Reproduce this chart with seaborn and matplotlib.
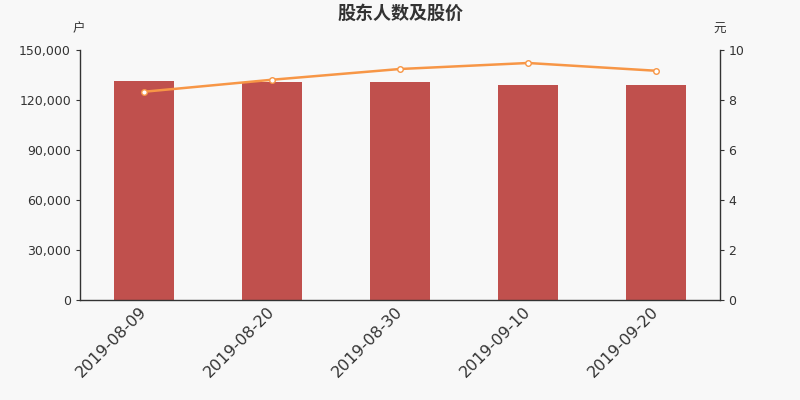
import matplotlib
matplotlib.use('Agg')
import pandas as pd
import seaborn as sns
import matplotlib.pyplot as plt
from matplotlib.ticker import FuncFormatter

# data
dates = ['2019-08-09', '2019-08-20', '2019-08-30', '2019-09-10', '2019-09-20']
holders = [131400, 130800, 130800, 129200, 129200]
prices = [8.33, 8.81, 9.24, 9.48, 9.17]

sns.set_style('white')
plt.rcParams['font.family'] = ['DejaVu Sans', 'Noto Sans CJK SC']
cjk = ['Noto Sans CJK SC', 'DejaVu Sans']

bg = '#f8f8f8'
txt = '#333333'
df = pd.DataFrame({'date': dates, 'holders': holders, 'price': prices, 'pos': range(len(dates))})

fig = plt.figure(figsize=(8, 4), dpi=100, facecolor=bg)
ax = fig.add_axes([0.1, 0.25, 0.8, 0.625], facecolor=bg)

sns.barplot(data=df, x='pos', y='holders', color='#c0504d', saturation=1, width=0.47,
            linewidth=0, ax=ax)
ax.set_xlim(-0.5, len(dates) - 0.5)
ax.set_ylim(0, 150000)
ax.set_yticks(range(0, 150001, 30000))
ax.yaxis.set_major_formatter(FuncFormatter(lambda v, p: f'{int(v):,}'))

ax2 = ax.twinx()
sns.lineplot(data=df, x='pos', y='price', color='#f79646', linewidth=1.8, marker='o',
             markersize=4, markerfacecolor='white', markeredgecolor='#f79646',
             markeredgewidth=1, ax=ax2)
ax2.set_ylim(0, 10)
ax2.set_yticks(range(0, 11, 2))

# category ticks at boundaries, labels at centres
ax.set_xticks([i - 0.5 for i in range(len(dates) + 1)])
ax.set_xticklabels([])
ax.set_xticks(range(len(dates)), minor=True)
ax.set_xticklabels(dates, minor=True, rotation=45, ha='right', va='center',
                   rotation_mode='anchor', fontsize=11.5, color=txt)
ax.tick_params(axis='x', which='minor', length=0, pad=7)
ax.tick_params(axis='x', which='major', length=3, color=txt)
ax.tick_params(axis='y', length=3, pad=3.5, color=txt, labelsize=9, labelcolor=txt)
ax2.tick_params(axis='y', length=3, pad=3, color=txt, labelsize=9, labelcolor=txt)

for a in (ax, ax2):
    a.set_xlabel('')
    a.set_ylabel('')
    for s in a.spines.values():
        s.set_visible(False)
ax.spines['left'].set_visible(True)
ax.spines['bottom'].set_visible(True)
ax2.spines['right'].set_visible(True)
for s in (ax.spines['left'], ax.spines['bottom'], ax2.spines['right']):
    s.set_color(txt)
    s.set_linewidth(1)

fig.text(0.5, 0.967, '股东人数及股价', ha='center', va='center', fontsize=13,
         fontweight='bold', color=txt, family=cjk)
fig.text(0.098, 0.927, '户', ha='center', va='center', fontsize=9, color=txt, family=cjk)
fig.text(0.899, 0.927, '元', ha='center', va='center', fontsize=9, color=txt, family=cjk)

fig.savefig('out.png', dpi=100, facecolor=bg)
